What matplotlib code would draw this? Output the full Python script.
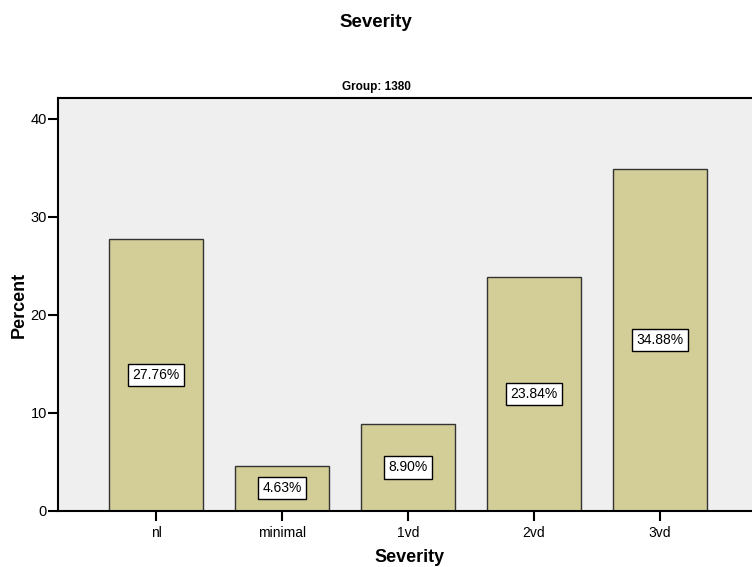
import numpy as np
import matplotlib.pyplot as plt

plt.rcParams['font.family'] = ['Liberation Sans', 'DejaVu Sans']

# severity percentages for group 1380
categories = ['nl', 'minimal', '1vd', '2vd', '3vd']
percent = [27.76, 4.63, 8.90, 23.84, 34.88]
yticks = [0, 10, 20, 30, 40]

fig = plt.figure(figsize=(7.52, 5.67), dpi=100)
ax = fig.add_axes([0.0771, 0.0988, 0.9229, 0.7284])
ax.set_facecolor('#efefef')

x = np.arange(len(categories))
ax.bar(x, percent, width=0.75, color='#d3ce97', edgecolor='#333333', linewidth=1.0, zorder=2)

# value labels in the middle of each bar
for xi, v in zip(x, percent):
    ax.text(xi, v / 2, '%.2f%%' % v, ha='center', va='center', fontsize=10, zorder=3,
            bbox=dict(boxstyle='square,pad=0.3', facecolor='white', edgecolor='black', linewidth=1.0))

ax.set_xlim(-0.778, 4.73)
ax.set_ylim(0, 42.14)
ax.set_xticks(x)
ax.set_xticklabels(categories, fontsize=10)
ax.set_yticks(yticks)
ax.tick_params(axis='y', labelsize=10.5, length=7, width=1.5, direction='out', pad=1)
ax.tick_params(axis='x', length=7, width=1.5, direction='out', pad=4)

for side in ['top', 'right']:
    ax.spines[side].set_visible(False)
ax.spines['left'].set_linewidth(1.5)
ax.spines['bottom'].set_linewidth(1.5)
ax.plot([-0.778, 4.73], [42.14, 42.14], color='black', linewidth=1.5, clip_on=False, zorder=4)

ax.set_ylabel('Percent', fontsize=13, fontweight='bold', labelpad=2)

fig.text(0.545, 0.0176, 'Severity', ha='center', va='center', fontsize=13, fontweight='bold')
fig.text(0.5, 0.961, 'Severity', ha='center', va='center', fontsize=13.5, fontweight='bold')
fig.text(0.5, 0.846, 'Group: 1380', ha='center', va='center', fontsize=8.5, fontweight='bold')

fig.savefig('out.png', dpi=100)
